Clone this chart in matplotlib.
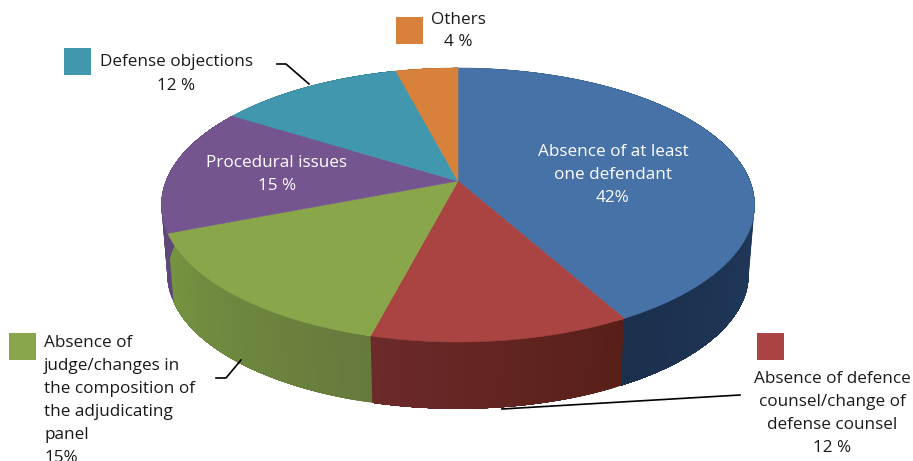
import numpy as np
import matplotlib.pyplot as plt
from matplotlib.colors import to_rgb

# shares as printed on the chart, clockwise from the top
categories = ["Absence of at least one defendant", "Absence of defence counsel",
              "Absence of judge", "Procedural issues", "Defense objections", "Others"]
values = [42, 12, 15, 15, 12, 4]

top_colors = ["#4672a8", "#a94442", "#8aa64a", "#74558f", "#4197ae", "#d8813b"]
side_start = ["#2a4a78", "#581f18", "#667a3c", "#5f4878", "#2f6f80", "#a0602c"]
side_end = ["#1b304d", "#6c2a2a", "#769441", "#5f4878", "#2f6f80", "#a0602c"]

plt.rcParams['font.family'] = ['Open Sans', 'DejaVu Sans']
FS = 12.3
LINE = 23

CX, CY = 458, 181
SX, SY, PERSP = 292, 132.8, 0.175
DEPTH, BOTTOM_SCALE = 70, 0.98


def project(theta, scale=1.0, dy=0.0):
    u, v = np.sin(theta), np.cos(theta)
    w = 1 + PERSP * v
    return CX + scale * SX * u / w, CY + dy - scale * SY * v / w


def draw_side(ax, t0, t1, c0, c1):
    c0, c1 = np.array(to_rgb(c0)), np.array(to_rgb(c1))
    edges = np.linspace(t0, t1, 60)
    for i in range(len(edges) - 1):
        # each strip runs on to the wedge end, the next one paints over it, so no seams
        f = i / 58
        col = c0 * (1 - f) + c1 * f
        t = edges[i:]
        xa, ya = project(t)
        xb, yb = project(t[::-1], BOTTOM_SCALE, DEPTH)
        ax.fill(np.r_[xa, xb], np.r_[ya, yb], color=col, lw=0, zorder=1)


def draw_top(ax, t0, t1, color):
    t = np.linspace(t0, t1, 120)
    x, y = project(t)
    ax.fill(np.r_[CX, x], np.r_[CY, y], color=color, lw=0.4, zorder=2)


def legend_box(ax, x, y, color):
    ax.fill([x, x + 27, x + 27, x], [y, y, y + 27, y + 27], color=color, lw=0, zorder=3)


def label(ax, x, y, lines, color="#1a1a1a", ha="center"):
    for i, line in enumerate(lines):
        ax.text(x, y + 1.5 + i * LINE, line, color=color, fontsize=FS, ha=ha, va="center", zorder=5)


def main():
    fig = plt.figure(figsize=(9.13, 4.61), dpi=100)
    ax = fig.add_axes([0, 0, 1, 1])
    ax.set_xlim(0, 913)
    ax.set_ylim(461, 0)
    ax.axis("off")

    bounds = np.r_[0, np.cumsum(values)] / sum(values) * 2 * np.pi
    for i in range(len(values)):
        draw_side(ax, bounds[i], bounds[i + 1], side_start[i], side_end[i])
    for i in range(len(values)):
        draw_top(ax, bounds[i], bounds[i + 1], top_colors[i])

    legend_box(ax, 396, 17, top_colors[5])
    legend_box(ax, 64, 48, top_colors[4])
    legend_box(ax, 9, 333, top_colors[2])
    legend_box(ax, 757, 333, top_colors[1])

    # leader lines
    ax.plot([277, 286, 309], [64, 64, 84], color="black", lw=1.2, zorder=4)
    ax.plot([216, 226, 241], [378, 378, 360], color="black", lw=1.2, zorder=4)
    ax.plot([502, 740], [409, 395], color="black", lw=1.2, zorder=4)

    label(ax, 458, 18, ["Others", "4 %"])
    label(ax, 176, 61, ["Defense objections", "12 %"])
    label(ax, 277, 161, ["Procedural issues", "15 %"], color="white")
    label(ax, 613, 150, ["Absence of at least", "one defendant", "42%"], color="white")
    label(ax, 44, 341, ["Absence of", "judge/changes in", "the composition of",
                        "the adjudicating", "panel", "15%"], ha="left")
    label(ax, 832, 377, ["Absence of defence", "counsel/change of",
                         "defense counsel", "12 %"])

    fig.savefig("out.png", dpi=100)


if __name__ == "__main__":
    main()
